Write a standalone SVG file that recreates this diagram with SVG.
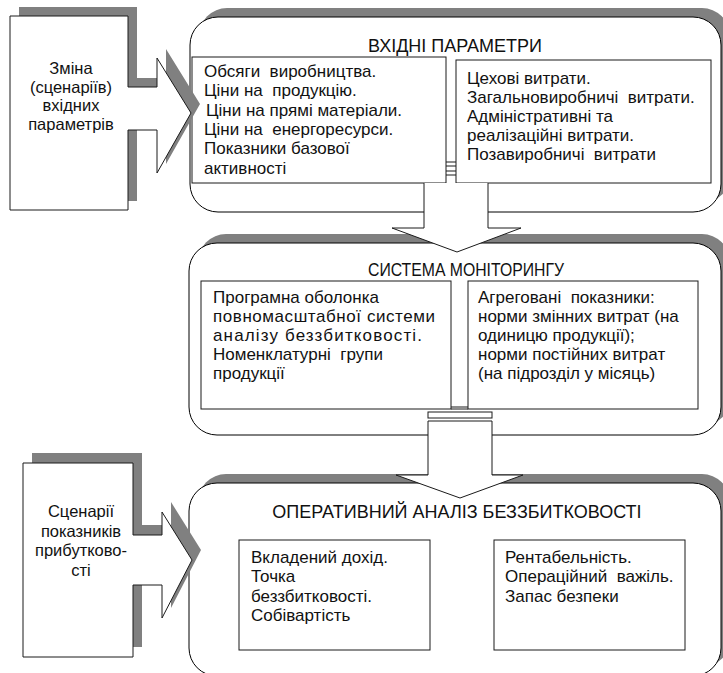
<svg xmlns="http://www.w3.org/2000/svg" width="723" height="673" viewBox="0 0 723 673">
  <style>
    .shadow { fill: #808080; stroke: none; }
    .panel { fill: #ffffff; stroke: #000000; stroke-width: 1; }
    .box { fill: #ffffff; stroke: #1a1a1a; stroke-width: 1; }
    .wire { fill: none; stroke: #1a1a1a; stroke-width: 1; }
    .fillw { fill: #ffffff; stroke: none; }
    text { font-family: "Liberation Sans", Arial, sans-serif; fill: #111111; white-space: pre; }
    .title { font-size: 18px; text-anchor: middle; }
    .body { font-size: 17px; }
    .side { font-size: 16.5px; text-anchor: middle; }
  </style>
  <rect width="723" height="673" fill="#ffffff"/>

  <!-- Input parameters panel -->
  <g id="input-params">
    <rect class="shadow" x="199" y="8" width="531" height="195" rx="28" ry="28"/>
    <rect class="panel" x="190" y="17" width="531" height="195" rx="28" ry="28"/>
    <text class="title" x="455" y="52">ВХІДНІ ПАРАМЕТРИ</text>
    <rect class="box" x="192" y="57" width="254" height="126"/>
    <text class="body" x="204" y="77">Обсяги  виробництва.</text>
    <text class="body" x="204" y="96">Ціни на  продукцію.</text>
    <text class="body" x="206" y="116">Ціни на прямі матеріали.</text>
    <text class="body" x="204" y="135">Ціни на  енергоресурси.</text>
    <text class="body" x="204" y="154">Показники базової</text>
    <text class="body" x="204" y="174">активності</text>
    <rect class="box" x="456" y="60" width="255" height="123"/>
    <text class="body" x="467" y="84">Цехові витрати.</text>
    <text class="body" x="467" y="103">Загальновиробничі  витрати.</text>
    <text class="body" x="467" y="122">Адміністративні та</text>
    <text class="body" x="467" y="141">реалізаційні витрати.</text>
    <text class="body" x="467" y="160">Позавиробничі  витрати</text>
  </g>

  <!-- Monitoring system panel -->
  <g id="monitoring">
    <rect class="shadow" x="198" y="234" width="532" height="192" rx="28" ry="28"/>
    <rect class="panel" x="189" y="243" width="532" height="192" rx="28" ry="28"/>
    <text class="title" x="466" y="276" style="font-size:17.5px" textLength="196" lengthAdjust="spacingAndGlyphs">СИСТЕМА МОНІТОРИНГУ</text>
    <rect class="box" x="201" y="281" width="250" height="128"/>
    <text class="body" x="213" y="303">Програмна оболонка</text>
    <text class="body" x="213" y="322" textLength="222">повномасштабної системи</text>
    <text class="body" x="213" y="341" textLength="209">аналізу беззбитковості.</text>
    <text class="body" x="213" y="360">Номенклатурні  групи</text>
    <text class="body" x="213" y="379">продукції</text>
    <rect class="box" x="468" y="281" width="230" height="128"/>
    <text class="body" x="478" y="303">Агреговані  показники:</text>
    <text class="body" x="478" y="322">норми змінних витрат (на</text>
    <text class="body" x="478" y="341">одиницю продукції);</text>
    <text class="body" x="478" y="360">норми постійних витрат</text>
    <text class="body" x="478" y="379">(на підрозділ у місяць)</text>
  </g>

  <!-- Break-even analysis panel -->
  <g id="break-even">
    <rect class="shadow" x="198" y="474" width="532" height="193" rx="28" ry="28"/>
    <rect class="panel" x="189" y="483" width="532" height="193" rx="28" ry="28"/>
    <text class="title" x="457" y="518">ОПЕРАТИВНИЙ АНАЛІЗ БЕЗЗБИТКОВОСТІ</text>
    <rect class="box" x="239" y="540" width="191" height="110"/>
    <text class="body" x="251" y="563">Вкладений дохід.</text>
    <text class="body" x="251" y="582">Точка</text>
    <text class="body" x="251" y="602">беззбитковості.</text>
    <text class="body" x="251" y="621">Собівартість</text>
    <rect class="box" x="494" y="540" width="191" height="110"/>
    <text class="body" x="505" y="563">Рентабельність.</text>
    <text class="body" x="505" y="582">Операційний  важіль.</text>
    <text class="body" x="505" y="602">Запас безпеки</text>
  </g>

  <!-- Scenario inputs feeding the panels -->
  <g id="input-scenarios">
    <path class="shadow" d="M19,7 H137 V78 H166 V49 L200,104 L166,164 V121 H137 V201 H19 Z"/>
    <path class="box" d="M10,16 H128 V87 H157 V58 L191,113 L157,173 V130 H128 V210 H10 Z"/>
    <text class="side" x="71" y="74">Зміна</text>
    <text class="side" x="71" y="93">(сценаріїв)</text>
    <text class="side" x="71" y="111">вхідних</text>
    <text class="side" x="71" y="130">параметрів</text>
  </g>

  <g id="profit-scenarios">
    <path class="shadow" d="M32,453 H142 V525 H171 V502 L201,550 L171,608 V575 H142 V647 H32 Z"/>
    <path class="box" d="M23,463 H133 V535 H162 V512 L192,560 L162,618 V585 H133 V657 H23 Z"/>
    <text class="side" x="81" y="517">Сценарії</text>
    <text class="side" x="81" y="537">показників</text>
    <text class="side" x="81" y="556">прибутково-</text>
    <text class="side" x="81" y="576">сті</text>
  </g>

  <!-- Connectors between panels -->
  <g id="connectors">
    <!-- link between the two input boxes -->
    <line class="wire" x1="446" y1="162" x2="456" y2="162"/>
    <line class="wire" x1="446" y1="166" x2="456" y2="166"/>
    <line class="wire" x1="446" y1="171" x2="456" y2="171"/>
    <line class="wire" x1="446" y1="175" x2="456" y2="175"/>
    <!-- arrow: inputs to monitoring -->
    <path class="fillw" d="M424,183 V228 H392 L457,252 L521,228 H488 V183 Z"/>
    <path class="wire" d="M424,183 V228 H392 L457,252 L521,228 H488 V183"/>
    <!-- link under the monitoring boxes -->
    <line class="wire" x1="451" y1="407" x2="468" y2="407"/>
    <line class="wire" x1="451" y1="409" x2="468" y2="409"/>
    <rect class="box" x="428" y="412" width="64" height="6"/>
    <!-- arrow: monitoring to analysis -->
    <path class="box" d="M428,421 H492 V475 H523 L460,498 L396,475 H428 Z"/>
  </g>
</svg>
